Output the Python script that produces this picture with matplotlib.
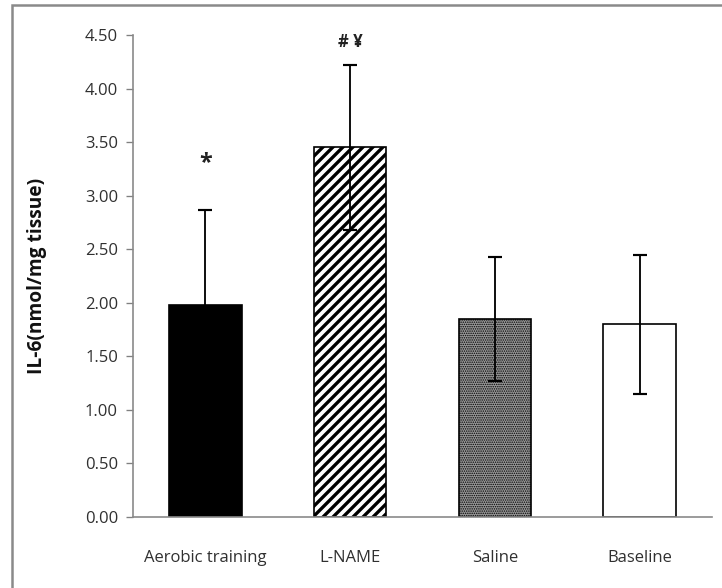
import matplotlib
matplotlib.use("Agg")
import matplotlib.pyplot as plt
from matplotlib.patches import Rectangle

groups = ["Aerobic training", "L-NAME", "Saline", "Baseline"]
means = [1.98, 3.45, 1.85, 1.80]
sds = [0.89, 0.77, 0.58, 0.65]
marks = ["*", "# \u00a5", "", ""]

plt.rcParams['font.family'] = ['Open Sans', 'DejaVu Sans']
plt.rcParams['hatch.linewidth'] = 2.0

fig = plt.figure(figsize=(722 / 120, 588 / 120), dpi=120)
ax = fig.add_axes([133 / 722, 1 - 517 / 588, 579 / 722, (517 - 35) / 588])

# outer frame around the whole chart
fig.patches.append(Rectangle((12 / 722, -0.1), 1.2, 1 - 5 / 588 + 0.1,
                             transform=fig.transFigure, fill=False,
                             edgecolor='#8a8a8a', linewidth=1.5))

x = range(len(groups))
faces = ['black', 'white', '#999999', 'white']
hatches = [None, '////', '.........', None]
hatch_lw = [2.0, 2.0, 0.6, 2.0]
for i in x:
    b = ax.bar(i, means[i], width=0.5, color=faces[i], edgecolor='black',
               hatch=hatches[i], linewidth=1.0, zorder=2)
    for p in b:
        if hasattr(p, 'set_hatch_linewidth'):
            p.set_hatch_linewidth(hatch_lw[i])
ax.errorbar(list(x), means, yerr=sds, fmt='none', ecolor='black',
            elinewidth=1.1, capsize=4, capthick=1.3, zorder=3)

# significance marks sit a little above the error caps
mark_gap = [0.43, 0.21, 0, 0]
for i in x:
    if marks[i]:
        top = means[i] + sds[i]
        ax.text(i, top + mark_gap[i], marks[i], ha='center', va='center',
                fontsize=14 if marks[i] == "*" else 10, fontweight='bold',
                color='#222222')

ax.set_xlim(-0.5, 3.5)
ax.set_ylim(0, 4.5)
ax.set_yticks([i * 0.5 for i in range(10)])
ax.set_yticklabels(['%.2f' % (i * 0.5) for i in range(10)])
ax.set_xticks(list(x))
ax.set_xticklabels(groups)
ax.tick_params(axis='y', direction='out', length=4, color='#808080',
               labelsize=10, labelcolor='#303030', pad=5)
ax.tick_params(axis='x', length=0, labelsize=10, labelcolor='#303030', pad=20)

for side in ['top', 'right']:
    ax.spines[side].set_visible(False)
for side in ['left', 'bottom']:
    ax.spines[side].set_color('#8a8a8a')
    ax.spines[side].set_linewidth(1.0)

ax.set_ylabel('IL-6(nmol/mg tissue)', fontsize=11.5, fontweight='bold',
              color='#111111')
ax.yaxis.set_label_coords(-0.148, 0.5)

fig.savefig('out.png', dpi=120)
